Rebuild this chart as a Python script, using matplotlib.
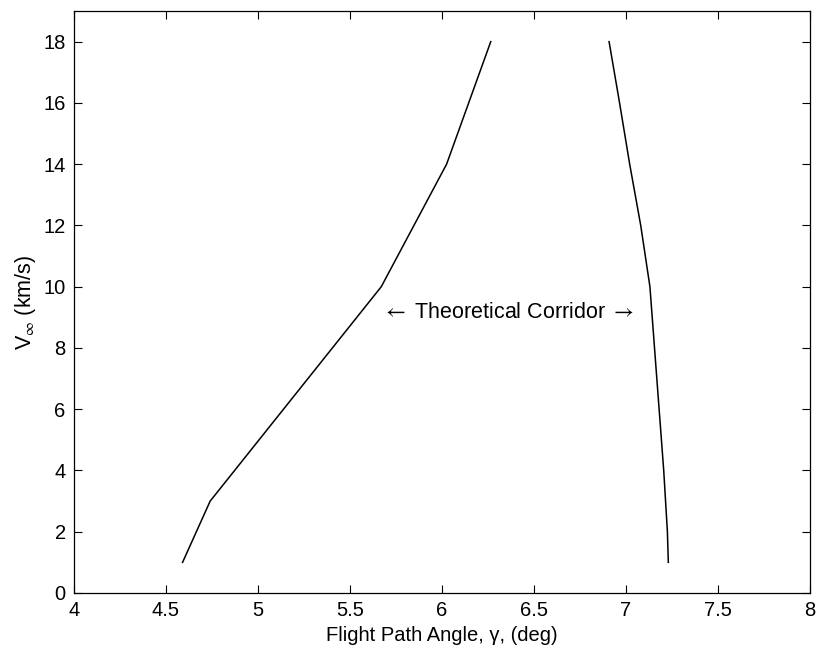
import matplotlib
matplotlib.use("Agg")
import matplotlib.pyplot as plt

plt.rcParams['font.family'] = ['Liberation Sans', 'DejaVu Sans']
plt.rcParams['mathtext.fontset'] = 'stixsans'

# Lower boundary of corridor (shallow limit)
left_angle = [4.59, 4.74, 5.67, 6.025, 6.265]
left_vel = [1, 3, 10, 14, 18]

# Upper boundary of corridor (steep limit)
right_angle = [7.23, 7.225, 7.205, 7.18, 7.155, 7.13, 7.08, 7.02, 6.965, 6.908]
right_vel = [1, 2, 4, 6, 8, 10, 12, 14, 16, 18]

xticks = [4, 4.5, 5, 5.5, 6, 6.5, 7, 7.5, 8]
xticklabels = ['4', '4.5', '5', '5.5', '6', '6.5', '7', '7.5', '8']
yticks = [0, 2, 4, 6, 8, 10, 12, 14, 16, 18]

fig = plt.figure(figsize=(8.19, 6.62), dpi=100)
ax = fig.add_axes([74/819, 1 - 593/662, (810 - 74)/819, (593 - 11)/662])

ax.plot(left_angle, left_vel, color='black', lw=1.1)
ax.plot(right_angle, right_vel, color='black', lw=1.1)

ax.text(6.36, 9.15, r'$\leftarrow$ Theoretical Corridor $\rightarrow$', ha='center', va='center',
        fontsize=15.5)

ax.set_xlim(4, 8)
ax.set_ylim(0, 19)
ax.set_xticks(xticks)
ax.set_xticklabels(xticklabels)
ax.set_yticks(yticks)
ax.tick_params(direction='in', length=6, width=0.8, labelsize=14.5,
               top=True, right=True, pad=6)
for s in ax.spines.values():
    s.set_linewidth(0.9)

ax.set_xlabel('Flight Path Angle, \u03b3, (deg)', fontsize=14.5, labelpad=4)
ax.set_ylabel('V$_{\\infty}$ (km/s)', fontsize=15.5, labelpad=4)

fig.savefig('out.png', dpi=100, facecolor='white')
